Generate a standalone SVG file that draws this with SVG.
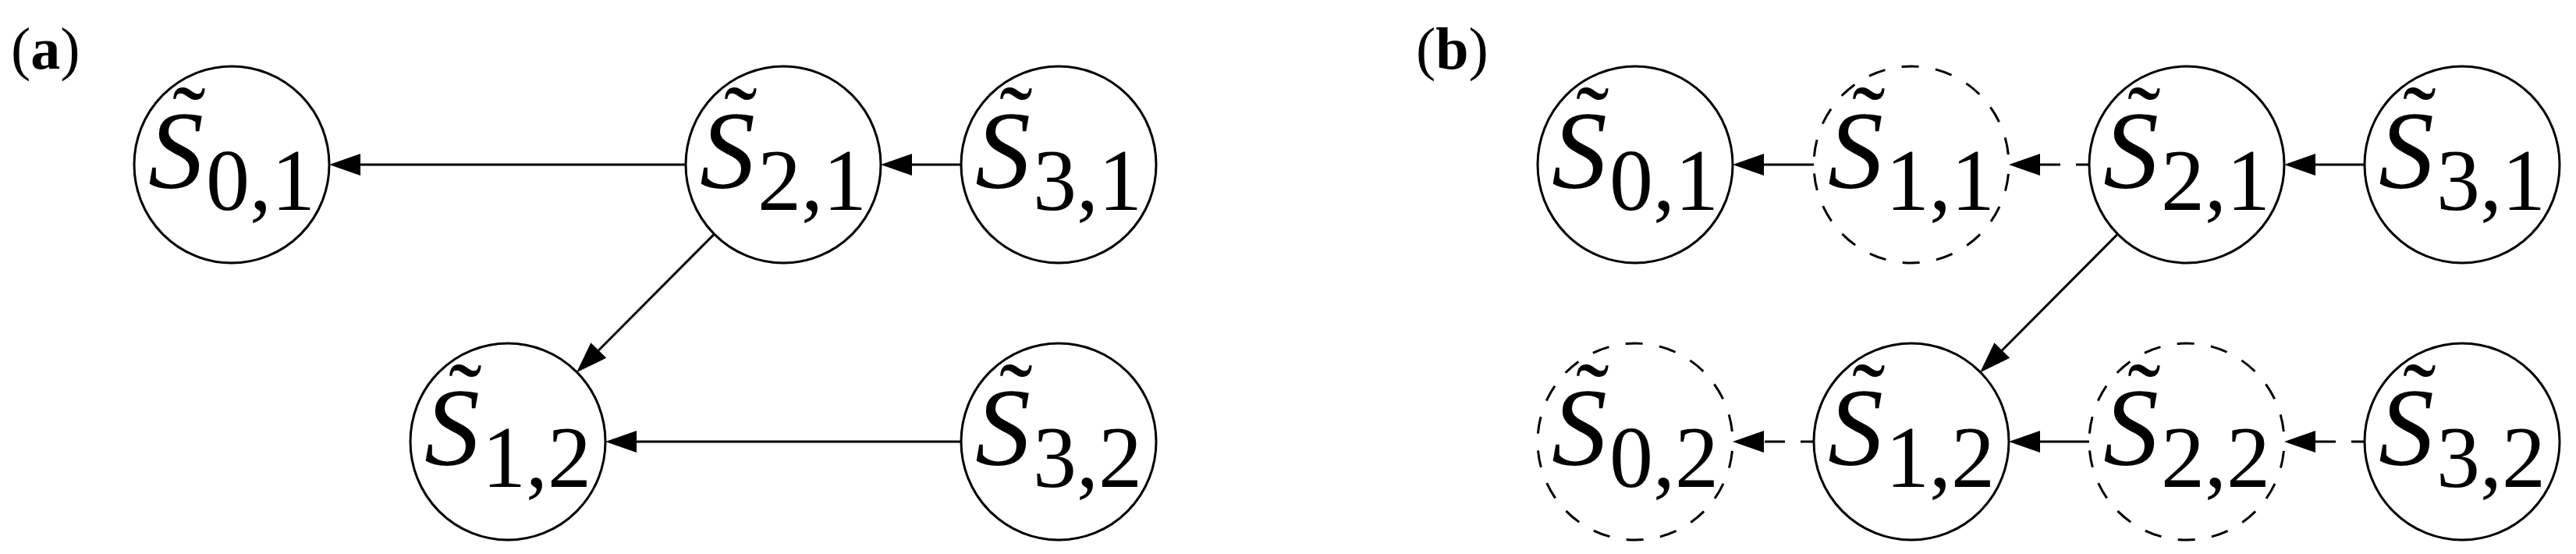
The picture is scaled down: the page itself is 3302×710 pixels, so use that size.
<svg xmlns="http://www.w3.org/2000/svg" width="3302" height="710" viewBox="0 0 3302 710">
<style>
.bg{fill:#ffffff}
.node{fill:#ffffff;stroke:#000;stroke-width:3}
.dash{fill:#ffffff;stroke:#000;stroke-width:3;stroke-dasharray:22 21.6;stroke-dashoffset:31.6}
.t{font-family:"Liberation Serif","DejaVu Serif",serif;fill:#000}
.S{font-style:italic;font-size:142px}
.sub{font-size:112px}
.tl{font-size:128px}
.lab{font-family:"Liberation Serif","DejaVu Serif",serif;font-size:76px;fill:#000}
.lab tspan{font-weight:bold}
.edge{fill:none;stroke:#000;stroke-width:3;marker-end:url(#ah)}
.edash{fill:none;stroke:#000;stroke-width:3;stroke-dasharray:17 20 26;marker-end:url(#ah)}
</style>
<defs>
<marker id="ah" markerUnits="userSpaceOnUse" markerWidth="40" markerHeight="28" viewBox="0 0 40 28" refX="0" refY="14" orient="auto" overflow="visible">
<path d="M0,0 L40,14 L0,28 Z" fill="#000"/>
</marker>
</defs>
<rect class="bg" x="0" y="0" width="3302" height="710"/>

<text class="lab" x="14" y="88">(<tspan>a</tspan>)</text>
<text class="lab" x="1815" y="88">(<tspan>b</tspan>)</text>

<g id="connectors">
<line class="edge" x1="879" y1="211" x2="462" y2="211"/>
<line class="edge" x1="1232" y1="211" x2="1169" y2="211"/>
<line class="edge" x1="1232" y1="566" x2="816" y2="566"/>
<line class="edge" x1="915.9" y1="299.6" x2="767.3" y2="449"/>

<line class="edge" x1="2325" y1="211" x2="2261" y2="211"/>
<line class="edash" x1="2678" y1="211" x2="2615" y2="211"/>
<line class="edge" x1="3031" y1="211" x2="2968" y2="211"/>
<line class="edash" x1="2325" y1="566" x2="2261" y2="566"/>
<line class="edge" x1="2678" y1="566" x2="2615" y2="566"/>
<line class="edash" x1="3031" y1="566" x2="2968" y2="566"/>
<line class="edge" x1="2714.9" y1="299.6" x2="2566.3" y2="449"/>
</g>

<g id="a-S01"><ellipse class="node" cx="297" cy="211" rx="125" ry="126"/><text class="t"><tspan class="tl" x="221" y="198">˜</tspan><tspan class="S" x="190" y="241">S</tspan><tspan class="sub" x="264" y="269">0,1</tspan></text></g>
<g id="a-S21"><ellipse class="node" cx="1004" cy="211" rx="125" ry="126"/><text class="t"><tspan class="tl" x="928" y="198">˜</tspan><tspan class="S" x="897" y="241">S</tspan><tspan class="sub" x="971" y="269">2,1</tspan></text></g>
<g id="a-S31"><ellipse class="node" cx="1357" cy="211" rx="125" ry="126"/><text class="t"><tspan class="tl" x="1281" y="198">˜</tspan><tspan class="S" x="1250" y="241">S</tspan><tspan class="sub" x="1324" y="269">3,1</tspan></text></g>
<g id="a-S12"><ellipse class="node" cx="651" cy="566" rx="125" ry="126"/><text class="t"><tspan class="tl" x="575" y="553">˜</tspan><tspan class="S" x="544" y="596">S</tspan><tspan class="sub" x="618" y="624">1,2</tspan></text></g>
<g id="a-S32"><ellipse class="node" cx="1357" cy="566" rx="125" ry="126"/><text class="t"><tspan class="tl" x="1281" y="553">˜</tspan><tspan class="S" x="1250" y="596">S</tspan><tspan class="sub" x="1324" y="624">3,2</tspan></text></g>

<g id="b-S01"><ellipse class="node" cx="2096" cy="211" rx="125" ry="126"/><text class="t"><tspan class="tl" x="2020" y="198">˜</tspan><tspan class="S" x="1989" y="241">S</tspan><tspan class="sub" x="2063" y="269">0,1</tspan></text></g>
<g id="b-S11"><ellipse class="dash" cx="2450" cy="211" rx="125" ry="126"/><text class="t"><tspan class="tl" x="2374" y="198">˜</tspan><tspan class="S" x="2343" y="241">S</tspan><tspan class="sub" x="2417" y="269">1,1</tspan></text></g>
<g id="b-S21"><ellipse class="node" cx="2803" cy="211" rx="125" ry="126"/><text class="t"><tspan class="tl" x="2727" y="198">˜</tspan><tspan class="S" x="2696" y="241">S</tspan><tspan class="sub" x="2770" y="269">2,1</tspan></text></g>
<g id="b-S31"><ellipse class="node" cx="3156" cy="211" rx="125" ry="126"/><text class="t"><tspan class="tl" x="3080" y="198">˜</tspan><tspan class="S" x="3049" y="241">S</tspan><tspan class="sub" x="3123" y="269">3,1</tspan></text></g>
<g id="b-S02"><ellipse class="dash" cx="2096" cy="566" rx="125" ry="126"/><text class="t"><tspan class="tl" x="2020" y="553">˜</tspan><tspan class="S" x="1989" y="596">S</tspan><tspan class="sub" x="2063" y="624">0,2</tspan></text></g>
<g id="b-S12"><ellipse class="node" cx="2450" cy="566" rx="125" ry="126"/><text class="t"><tspan class="tl" x="2374" y="553">˜</tspan><tspan class="S" x="2343" y="596">S</tspan><tspan class="sub" x="2417" y="624">1,2</tspan></text></g>
<g id="b-S22"><ellipse class="dash" cx="2803" cy="566" rx="125" ry="126"/><text class="t"><tspan class="tl" x="2727" y="553">˜</tspan><tspan class="S" x="2696" y="596">S</tspan><tspan class="sub" x="2770" y="624">2,2</tspan></text></g>
<g id="b-S32"><ellipse class="node" cx="3156" cy="566" rx="125" ry="126"/><text class="t"><tspan class="tl" x="3080" y="553">˜</tspan><tspan class="S" x="3049" y="596">S</tspan><tspan class="sub" x="3123" y="624">3,2</tspan></text></g>
</svg>
